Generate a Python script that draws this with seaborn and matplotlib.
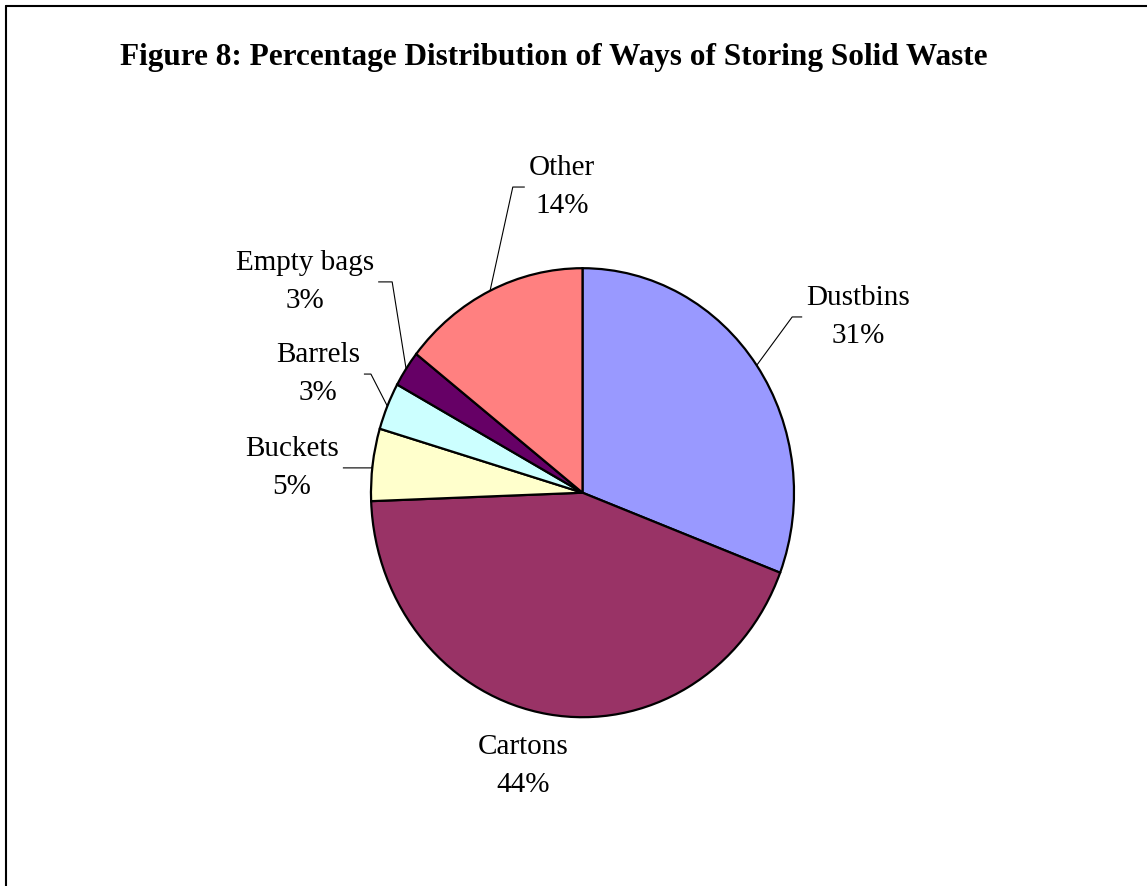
import numpy as np
import matplotlib
matplotlib.use("Agg")
import matplotlib.pyplot as plt
from matplotlib.lines import Line2D
import seaborn as sns

# ---- data ----
categories = ["Dustbins", "Cartons", "Buckets", "Barrels", "Empty bags", "Other"]
shares = [30.8, 43.6, 5.2, 3.4, 2.6, 14.4]
colors = ["#9999FF", "#993366", "#FFFFCC", "#CCFFFF", "#660066", "#FF8080"]
title = "Figure 8: Percentage Distribution of Ways of Storing Solid Waste"

# ---- layout (label placement: polar angle in degrees, radius in pie radii) ----
label_angle = [31.0, -103.0, 175.4, 157.1, 144.4, 94.1]
label_radius = [1.52, 1.249, 1.378, 1.358, 1.613, 1.365]
show_leader = [True, False, True, True, True, True]
hook_px = [10, 0, 29, 7, 14, 12]

sns.set_theme(style="white")
plt.rcParams["font.family"] = ["Liberation Serif", "DejaVu Serif"]

W, H = 1147, 886
fig = plt.figure(figsize=(W / 100, H / 100), dpi=100)
fig.patch.set_facecolor("white")
ax = fig.add_axes([0, 0, 1, 1])

wedges, _ = ax.pie(shares, colors=colors, startangle=90, counterclock=False,
                   wedgeprops=dict(edgecolor="black", linewidth=1.6))

# pie centre / radii in pixels (slightly taller than wide as in the reference)
cx, cy, rx, ry = 582.5, 492.7, 211.5, 224.5
ax.set_aspect("auto")
ax.set_xlim(-cx / rx, (W - cx) / rx)
ax.set_ylim((cy - H) / ry, cy / ry)
ax.axis("off")

fs = 21
texts = []
for cat, val, a, r in zip(categories, shares, label_angle, label_radius):
    t = ax.text(r * np.cos(np.radians(a)), r * np.sin(np.radians(a)),
                f"{cat}\n{val:.0f}%", ha="center", va="center",
                multialignment="center", fontsize=fs, color="black",
                linespacing=1.6)
    texts.append(t)

fig.canvas.draw()
renderer = fig.canvas.get_renderer()
inv = ax.transData.inverted()
for w, t, show, hook in zip(wedges, texts, show_leader, hook_px):
    if not show:
        continue
    mid = np.radians((w.theta1 + w.theta2) / 2)
    px, py = np.cos(mid), np.sin(mid)
    bb = t.get_window_extent(renderer)
    ymid = (bb.y0 + bb.y1) / 2
    arc_disp = ax.transData.transform((px, py))
    if arc_disp[0] < bb.x0:
        start = (bb.x0 - 4, ymid)
        corner = (bb.x0 - 4 - hook, ymid)
    else:
        start = (bb.x1 + 4, ymid)
        corner = (bb.x1 + 4 + hook, ymid)
    pts = inv.transform([start, corner])
    ax.plot([pts[0][0], pts[1][0], px], [pts[0][1], pts[1][1], py],
            color="black", linewidth=0.8, solid_capstyle="butt")

fig.text(553.5 / W, 1 - 57 / H, title, ha="center", va="center",
         fontsize=22.5, fontweight="bold", color="black")

# chart-area frame (left and top edges visible)
fig.add_artist(Line2D([6 / W, 6 / W], [0, 1 - 6 / H], transform=fig.transFigure,
                      color="black", linewidth=1.5))
fig.add_artist(Line2D([6 / W, 1], [1 - 6 / H, 1 - 6 / H], transform=fig.transFigure,
                      color="black", linewidth=1.5))

fig.savefig("out.png", dpi=100, facecolor="white")
